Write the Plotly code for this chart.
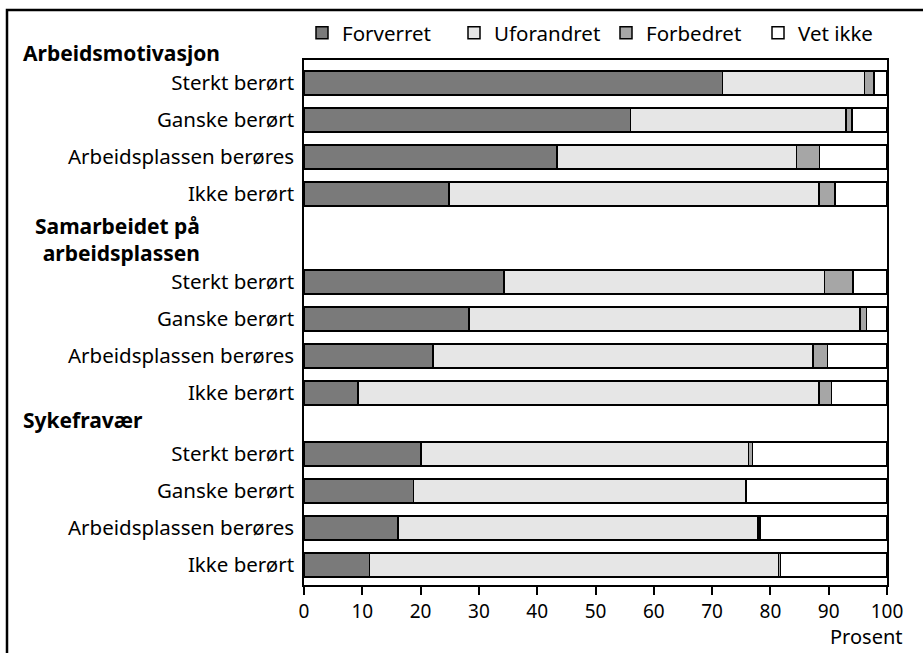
import plotly.graph_objects as go

# ---------------- data ----------------
groups = ["Arbeidsmotivasjon", "Samarbeidet på<br>arbeidsplassen", "Sykefravær"]
subcats = ["Sterkt berørt", "Ganske berørt", "Arbeidsplassen berøres", "Ikke berørt"]
series_names = ["Forverret", "Uforandret", "Forbedret", "Vet ikke"]

forverret = [71.8, 56.0, 43.4, 24.9, 34.3, 28.3, 22.1, 9.3, 20.1, 18.8, 16.1, 11.2]
uforandret = [24.3, 37.0, 41.1, 63.4, 55.0, 67.1, 65.2, 79.0, 56.1, 57.0, 61.8, 70.2]
forbedret = [1.7, 1.0, 3.9, 2.8, 4.9, 1.1, 2.5, 2.2, 0.7, 0.1, 0.3, 0.3]
vet_ikke = [2.2, 6.0, 11.6, 8.9, 5.8, 3.5, 10.2, 9.5, 23.1, 24.1, 21.8, 18.3]

x_ticks = [0, 10, 20, 30, 40, 50, 60, 70, 80, 90, 100]
x_title = "Prosent"

# ---------------- layout helpers ----------------
W, H = 923, 653
L, R, T, B = 304, 36, 60, 68
PW, PH = W - L - R, H - T - B
ROW = 37.0  # pixels per row unit


def px_x(px):
    return (px - L) / PW


def px_y(py):
    return (H - B - py) / PH


def row_to_paper(u):
    return px_y(T + u * ROW)


colors = ["#7a7a7a", "#e6e6e6", "#a6a6a6", "#ffffff"]
FONT = "Noto Sans"
FS_LABEL = 20.5
FS_HEAD = 21
FS_TICK = 19

group_start = [0.62, 6.0, 10.65]   # row positions (layout)
header_pos = [-0.2, 4.84, 9.73]
ypos = [g + i for g in group_start for i in range(len(subcats))]
ylabels = [s for _ in groups for s in subcats]

fig = go.Figure()
for name, vals, col in zip(series_names, [forverret, uforandret, forbedret, vet_ikke], colors):
    fig.add_trace(go.Bar(
        y=ypos, x=vals, name=name, orientation="h",
        marker=dict(color=col, line=dict(color="black", width=1.5)),
        width=0.65,
    ))

annotations = []
for g, hy in zip(groups, header_pos):
    multi = "<br>" in g
    annotations.append(dict(
        text=f"<b>{g}</b>", xref="paper", yref="paper",
        x=px_x(202 if multi else 21), y=row_to_paper(hy),
        xanchor="right" if multi else "left", yanchor="middle", align="right",
        showarrow=False, font=dict(family=FONT, size=FS_HEAD, color="black"),
    ))
annotations.append(dict(
    text=x_title, xref="paper", yref="paper", x=px_x(905), y=px_y(636),
    xanchor="right", yanchor="middle", showarrow=False,
    font=dict(family=FONT, size=20, color="black"),
))

fig.update_layout(
    width=W, height=H,
    margin=dict(l=L, r=R, t=T, b=B, pad=0),
    barmode="stack",
    paper_bgcolor="white", plot_bgcolor="white",
    font=dict(family=FONT, size=FS_LABEL, color="black"),
    showlegend=True,
    legend=dict(orientation="h", x=px_x(302), y=px_y(13), xanchor="left", yanchor="top",
                font=dict(family=FONT, size=FS_LABEL), traceorder="normal",
                entrywidth=107, entrywidthmode="pixels",
                bgcolor="rgba(0,0,0,0)", itemclick=False),
    annotations=annotations,
    xaxis=dict(range=[0, 100], tickvals=x_ticks, showgrid=False, zeroline=False,
               showline=True, linecolor="black", linewidth=1.5, mirror=True,
               ticks="outside", ticklen=8, tickwidth=1.5, tickcolor="black",
               tickfont=dict(family=FONT, size=FS_TICK)),
    yaxis=dict(range=[PH / ROW, 0], tickvals=ypos, ticktext=ylabels,
               showgrid=False, zeroline=False, showline=True, linecolor="black",
               linewidth=1.5, mirror=True, ticks="", ticklabelstandoff=4,
               tickfont=dict(family=FONT, size=FS_LABEL)),
    shapes=[dict(type="rect", xref="paper", yref="paper",
                 x0=px_x(7), x1=px_x(940), y0=px_y(670), y1=px_y(10),
                 line=dict(color="black", width=2.5), fillcolor="rgba(0,0,0,0)")],
)

fig.write_html("out.html", config={"displayModeBar": False},
               post_script="document.body.style.margin='0';")
